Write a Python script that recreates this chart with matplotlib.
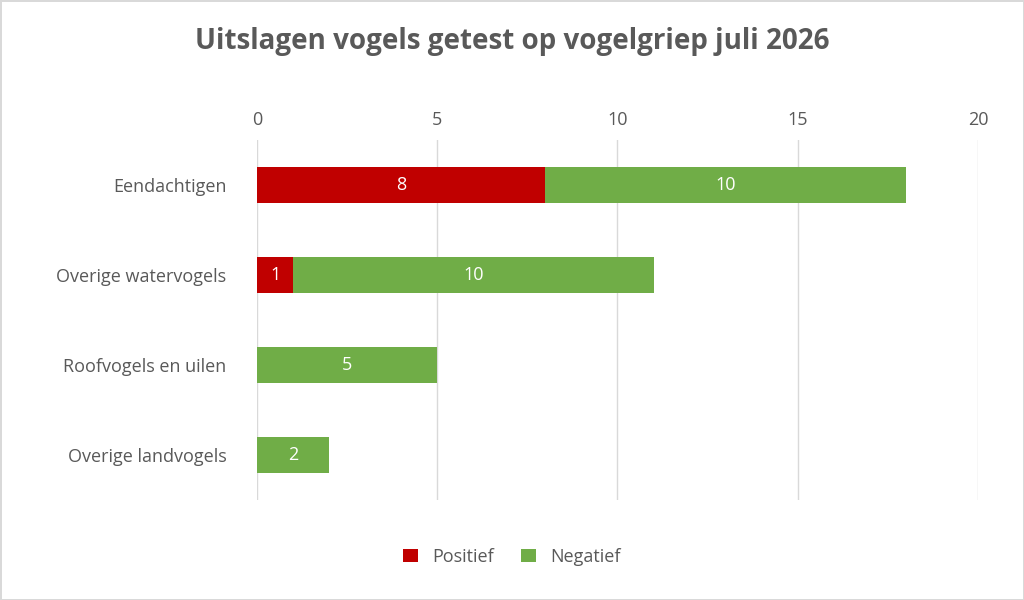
import matplotlib.pyplot as plt

categories = ['Eendachtigen', 'Overige watervogels', 'Roofvogels en uilen', 'Overige landvogels']
positief = [8, 1, 0, 0]
negatief = [10, 10, 5, 2]

plt.rcParams['font.family'] = ['Open Sans', 'DejaVu Sans']
fig = plt.figure(figsize=(10.24, 6), dpi=100)
fig.patch.set_edgecolor('#d9d9d9')
fig.patch.set_linewidth(2)
ax = fig.add_axes([0.251, 0.167, 0.704, 0.60])

y = list(range(len(categories)))
ax.barh(y, positief, height=0.4, color='#C00000', label='Positief')
ax.barh(y, negatief, left=positief, height=0.4, color='#70AD47', label='Negatief')
for i in y:
    if positief[i]:
        ax.text(positief[i] / 2, i, str(positief[i]), ha='center', va='center', color='white', fontsize=13)
    ax.text(positief[i] + negatief[i] / 2, i, str(negatief[i]), ha='center', va='center', color='white', fontsize=13)

ax.set_xlim(0, 20)
ax.set_ylim(3.5, -0.5)
ax.set_xticks([0, 5, 10, 15, 20])
ax.set_yticks(y)
ax.set_yticklabels(categories)
ax.xaxis.tick_top()
ax.tick_params(length=0, labelsize=13, colors='#595959', pad=8)
ax.tick_params(axis='y', pad=22)
ax.grid(axis='x', color='#d9d9d9', linewidth=1)
ax.set_axisbelow(True)
for s in ax.spines.values():
    s.set_visible(False)

fig.suptitle('Uitslagen vogels getest op vogelgriep juli 2026', y=0.955,
             fontsize=20, fontweight='bold', color='#595959')
fig.legend(loc='lower center', bbox_to_anchor=(0.5, 0.03), ncol=2, frameon=False,
           fontsize=13, labelcolor='#595959', handlelength=0.8, handleheight=0.8, columnspacing=1.5)
fig.savefig('out.png')
